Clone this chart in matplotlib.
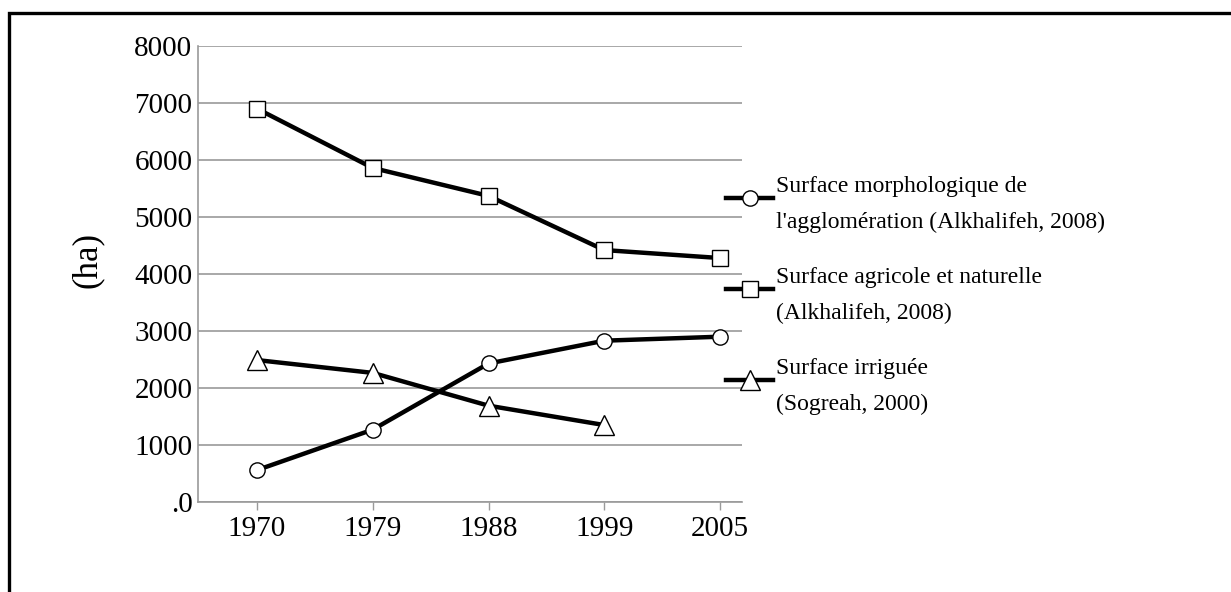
import matplotlib.pyplot as plt
from matplotlib.patches import Rectangle

years = ['1970', '1979', '1988', '1999', '2005']
morpho = [560, 1270, 2430, 2830, 2900]
agri = [6900, 5860, 5370, 4420, 4280]
irrig = [2490, 2265, 1690, 1350]

labels = ["Surface morphologique de\nl'agglomération (Alkhalifeh, 2008)",
          "Surface agricole et naturelle\n(Alkhalifeh, 2008)",
          "Surface irriguée\n(Sogreah, 2000)"]

plt.rcParams['font.family'] = ['Liberation Serif', 'DejaVu Serif']

W, H = 1231, 592
fig = plt.figure(figsize=(W / 100, H / 100), dpi=100)
ax = fig.add_axes([198 / W, 1 - 502 / H, (742 - 198) / W, (502 - 46) / H])

x = list(range(len(years)))
grey = '#9a9a9a'

# lines with open markers
style = dict(color='black', lw=3.2, mfc='white', mec='black', mew=1.0)
l1, = ax.plot(x, morpho, marker='o', ms=11, **style)
l2, = ax.plot(x, agri, marker='s', ms=11, **style)
l3, = ax.plot(x[:len(irrig)], irrig, marker='^', ms=14, **style)

ax.set_xlim(-0.51, 4.19)
ax.set_ylim(0, 8000)
ax.set_yticks(range(0, 8001, 1000))
ax.set_yticklabels(['.0'] + [str(v) for v in range(1000, 8001, 1000)])
ax.set_xticks(x)
ax.set_xticklabels(years)

ax.grid(axis='y', color=grey, lw=1.2)
ax.set_axisbelow(True)
for s in ['top', 'right']:
    ax.spines[s].set_visible(False)
for s in ['left', 'bottom']:
    ax.spines[s].set_color(grey)
    ax.spines[s].set_linewidth(1.2)

ax.tick_params(axis='y', length=0, pad=4, labelsize=21)
ax.tick_params(axis='x', length=6, width=1, color=grey, pad=4, labelsize=21)

ax.set_ylabel('(ha)', fontsize=25)
ax.yaxis.set_label_coords((104 - 198) / 544, (502 - 260) / 456)

leg = fig.legend([l1, l2, l3], labels, loc='upper left',
                 bbox_to_anchor=(726 / W, 1 - 176 / H), frameon=False,
                 fontsize=17, handlelength=2.0, handletextpad=0.1,
                 handleheight=2.4, labelspacing=1.45, borderpad=0,
                 borderaxespad=0)
for t in leg.get_texts():
    t.set_linespacing(1.9)

# outer frame (only top and left edges fall inside the picture)
fig.patches.append(Rectangle((8.5 / W, -0.2), 1.5, 1.2 - 12.5 / H + 0.0,
                             transform=fig.transFigure, fill=False,
                             lw=2.4, edgecolor='black'))

fig.savefig('out.png', dpi=100)
